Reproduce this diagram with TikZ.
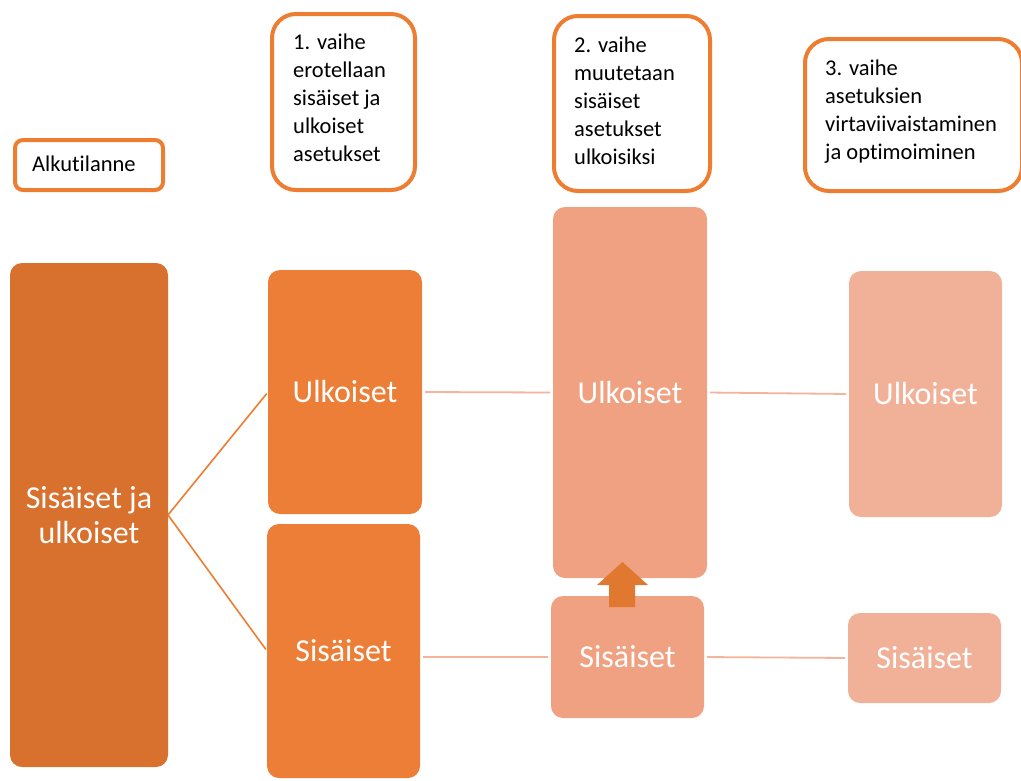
\documentclass[tikz,border=0pt]{standalone}
\usepackage{fontspec}
\setmainfont{Carlito}[Ligatures=NoCommon]
\definecolor{accent}{HTML}{ED7D31}
\definecolor{stage0}{HTML}{D8702E}
\definecolor{stage1}{HTML}{ED7E37}
\definecolor{stage2}{HTML}{F0A181}
\definecolor{stage3}{HTML}{F1B198}
\definecolor{liftcol}{HTML}{E07830}
\definecolor{linkpale}{HTML}{F4B39A}
\begin{document}
\begin{tikzpicture}[x=1pt,y=-1pt,
  fillbox/.style={rounded corners=12pt, inner sep=0pt, outer sep=0pt, text=white,
    font=\fontsize{32}{35}\selectfont, align=center},
  labelbox/.style={draw=accent, line width=4pt, rounded corners=#1, fill=white,
    inner sep=0pt, outer sep=0pt},
  labelbox/.default=24pt,
  labeltext/.style={anchor=north west, inner sep=0pt, align=left, text=black,
    font=\fontsize{22.5}{28}\selectfont},
  branch/.style={draw=accent, line width=1.6pt, shorten >=2pt},
  link/.style={draw=linkpale, line width=1.8pt, shorten <=3pt, shorten >=3pt},
]
\useasboundingbox (0,0) rectangle (1021,780);
\clip (0,0) rectangle (1021,780);

% stage headings
\node[labelbox=8pt, minimum width=148pt, minimum height=50pt] (alk) at (89,165) {};
\node[labeltext] (alkt) at ([xshift=17pt,yshift=-16pt]alk.north west) {Alkutilanne};

\node[labelbox, minimum width=143pt, minimum height=176pt] (v1) at (343.5,102) {};
\node[labeltext] (v1t) at ([xshift=21pt,yshift=-20pt]v1.north west)
  {1. vaihe\\erotellaan\\sisäiset ja\\ulkoiset\\asetukset};

\node[labelbox, minimum width=156pt, minimum height=175pt] (v2) at (632,103.5) {};
\node[labeltext] (v2t) at ([xshift=20pt,yshift=-21pt]v2.north west)
  {2. vaihe\\muutetaan\\sisäiset\\asetukset\\ulkoisiksi};

\node[labelbox, minimum width=217pt, minimum height=152pt] (v3) at (913.5,115) {};
\node[labeltext] (v3t) at ([xshift=20pt,yshift=-21pt]v3.north west)
  {3. vaihe\\asetuksien\\virtaviivaistaminen\\ja optimoiminen};

% settings blocks
\node[fillbox, fill=stage0, minimum width=158pt, minimum height=504pt] (big) at (89,515)
  {Sisäiset ja\\ulkoiset};

\node[fillbox, fill=stage1, minimum width=154pt, minimum height=244pt] (ulk1) at (345,392) {Ulkoiset};
\node[fillbox, fill=stage1, minimum width=153pt, minimum height=254pt] (sis1) at (343.5,651) {Sisäiset};

\node[fillbox, fill=stage2, minimum width=154pt, minimum height=371pt] (ulk2) at (630,392.5) {Ulkoiset};
\node[fillbox, fill=stage2, minimum width=153pt, minimum height=122pt] (sis2) at (627.5,657) {Sisäiset};

\node[fillbox, fill=stage3, minimum width=153pt, minimum height=246pt] (ulk3) at (925.5,394) {Ulkoiset};
\node[fillbox, fill=stage3, minimum width=153pt, minimum height=90pt] (sis3) at (924.5,658) {Sisäiset};

% block arrow: internal settings become external
\fill[liftcol] (609,607) -- (609,585) -- (597,585) -- (622.5,562) -- (648,585)
  -- (635,585) -- (635,607) -- cycle;

% connectors
\draw[branch] (big.east) -- (ulk1.west);
\draw[branch] (big.east) -- (sis1.west);
\draw[link] (ulk1.east) -- (ulk2.west);
\draw[link] (ulk2.east) -- (ulk3.west);
\draw[link] (sis2.west -| sis1.east) -- (sis2.west);
\draw[link] (sis2.east) -- (sis3.west);
\end{tikzpicture}
\end{document}
